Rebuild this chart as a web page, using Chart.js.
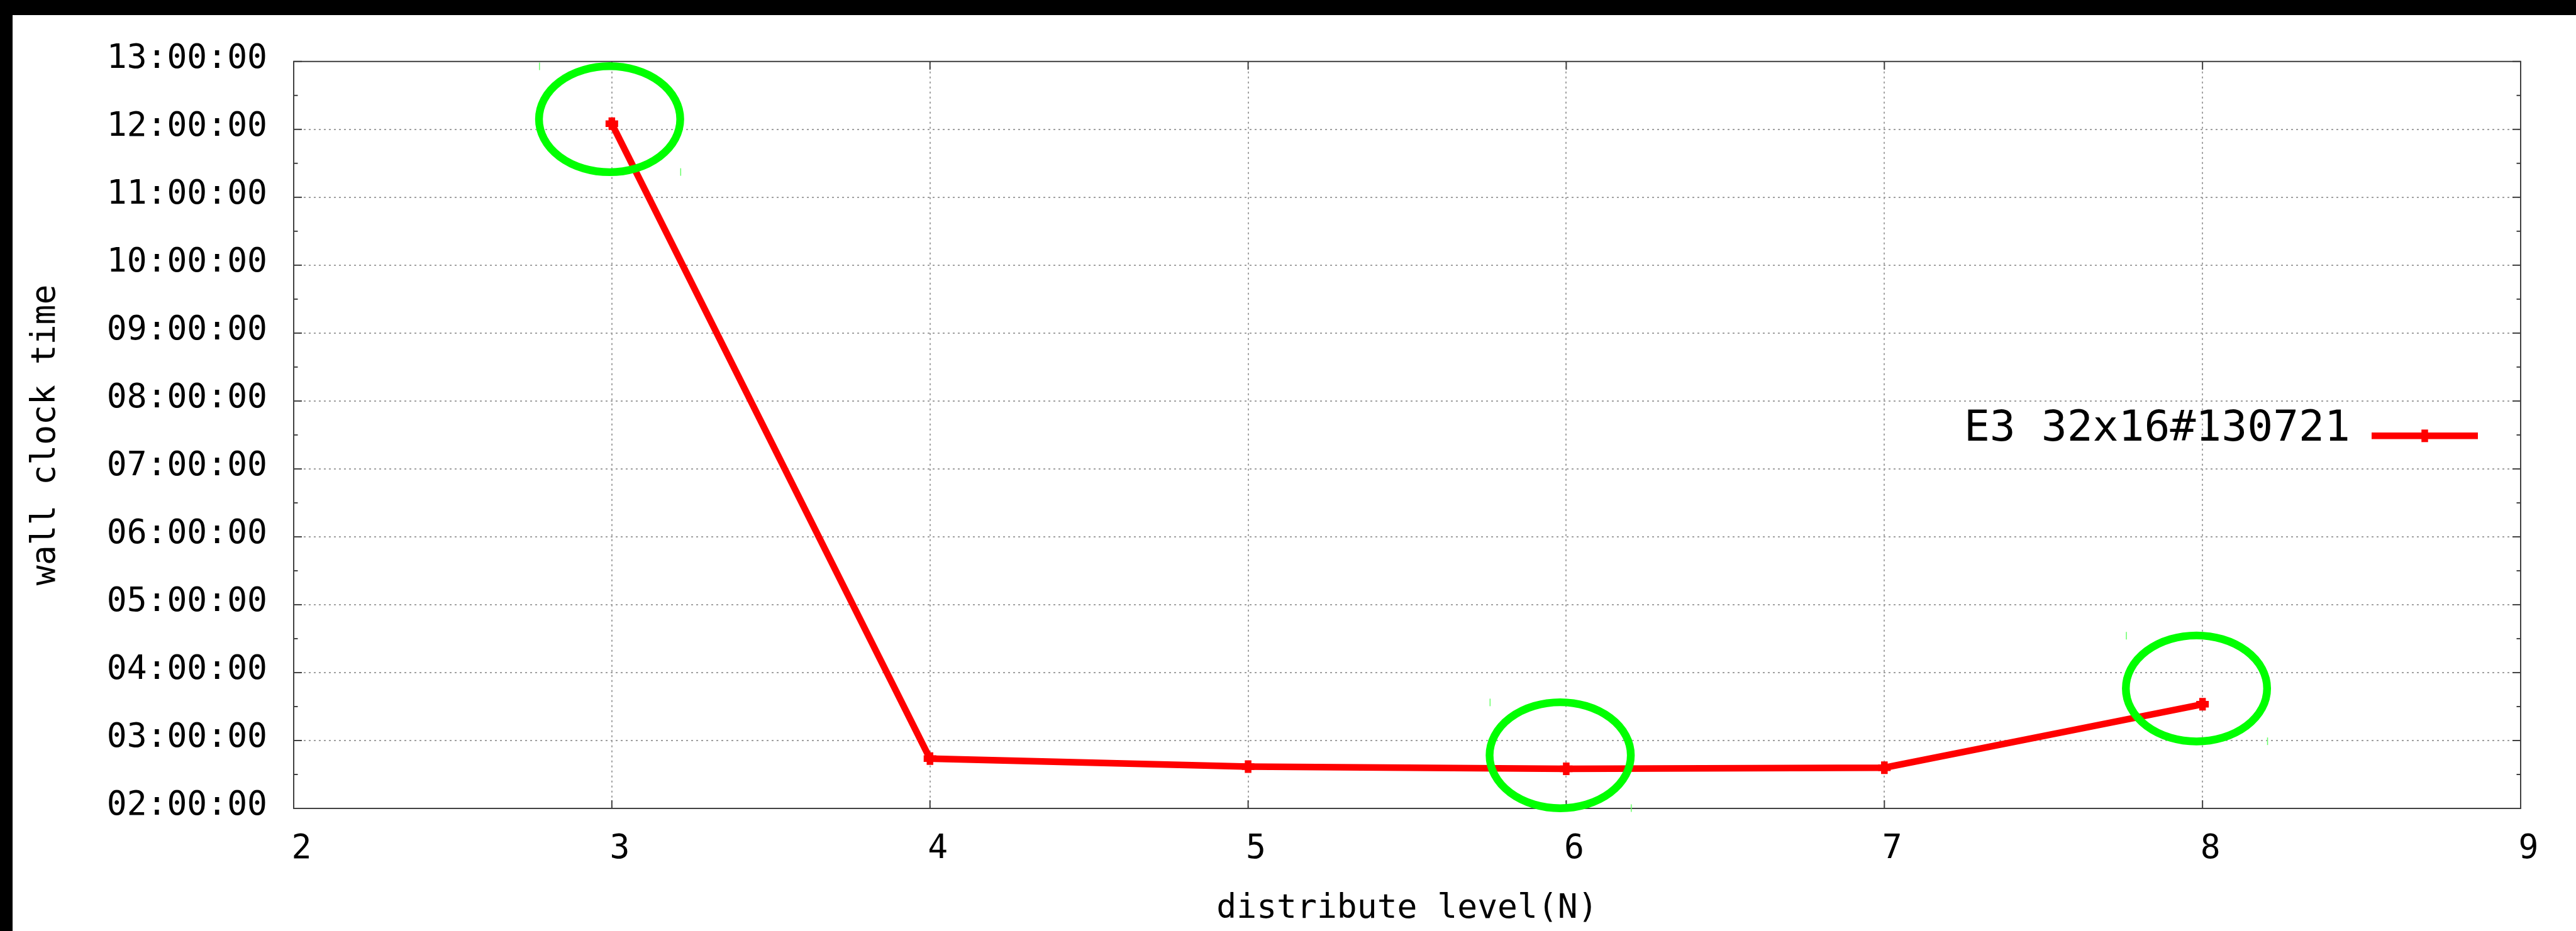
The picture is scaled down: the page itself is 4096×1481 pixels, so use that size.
<!DOCTYPE html>
<html>
<head>
<meta charset="utf-8">
<script src="https://cdn.jsdelivr.net/npm/chart.js@4.4.1/dist/chart.umd.min.js"></script>
<style>
html, body { margin: 0; padding: 0; background: #000; width: 4096px; height: 1481px; overflow: hidden; }
#wrap { position: absolute; left: 20px; top: 24px; width: 4076px; height: 1457px; background: #fff; }
canvas { display: block; }
</style>
</head>
<body>
<div id="wrap"><canvas id="c" width="4076" height="1457"></canvas></div>
<script>
// ---- data ----
const levels = [3, 4, 5, 6, 7, 8];
const wallClockTimes = ['12:05:00', '02:44:00', '02:37:00', '02:35:00', '02:36:00', '03:32:00'];
const seriesLabel = 'E3 32x16#130721';
const xTickValues = [2, 3, 4, 5, 6, 7, 8, 9];
const yTickLabels = ['02:00:00', '03:00:00', '04:00:00', '05:00:00', '06:00:00', '07:00:00',
                     '08:00:00', '09:00:00', '10:00:00', '11:00:00', '12:00:00', '13:00:00'];
const xTitle = 'distribute level(N)';
const yTitle = 'wall clock time';
// hand-drawn green highlight circles (centre in data units)
const highlightLevels = [2.993, 5.981, 7.981];
const highlightTimes = ['12:09:00', '02:47:00', '03:46:00'];

function toSec(s) { const p = s.split(':').map(Number); return p[0] * 3600 + p[1] * 60 + p[2]; }
function fmt(v) {
  const h = Math.floor(v / 3600), m = Math.floor((v % 3600) / 60), s = Math.round(v % 60);
  const z = n => String(n).padStart(2, '0');
  return z(h) + ':' + z(m) + ':' + z(s);
}

const FONT = '"DejaVu Sans Mono", monospace';
const RED = '#ff0000';
const GRID = '#a0a0a0';
const FRAME = '#404040';

const framePlugin = {
  id: 'framePlugin',
  beforeDatasetsDraw(chart) {
    const { ctx, chartArea: a, scales: { x, y } } = chart;
    const line = (x1, y1, x2, y2) => { ctx.beginPath(); ctx.moveTo(x1, y1); ctx.lineTo(x2, y2); ctx.stroke(); };
    ctx.save();
    ctx.strokeStyle = FRAME;
    ctx.lineWidth = 2;
    ctx.setLineDash([]);
    ctx.strokeRect(a.left, a.top, a.right - a.left, a.bottom - a.top);
    const yt = y.ticks;
    yt.forEach((t, i) => {
      const py = y.getPixelForValue(t.value);
      line(a.left, py, a.left + 13, py);
      line(a.right, py, a.right - 13, py);
      if (i < yt.length - 1) {
        const pm = y.getPixelForValue((t.value + yt[i + 1].value) / 2);
        line(a.left, pm, a.left + 6.5, pm);
        line(a.right, pm, a.right - 6.5, pm);
      }
    });
    x.ticks.forEach(t => {
      const px = x.getPixelForValue(t.value);
      line(px, a.bottom, px, a.bottom - 13);
      line(px, a.top, px, a.top + 13);
    });
    ctx.restore();
  },
  afterDraw(chart) {
    const { ctx, chartArea: a, scales: { x, y } } = chart;
    const line = (x1, y1, x2, y2) => { ctx.beginPath(); ctx.moveTo(x1, y1); ctx.lineTo(x2, y2); ctx.stroke(); };
    ctx.save();
    // legend (inside plot, right side)
    const ds = chart.data.datasets[0];
    ctx.font = '68px ' + FONT;
    ctx.fillStyle = '#000';
    ctx.textAlign = 'right';
    ctx.textBaseline = 'alphabetic';
    const ly = a.top + 595.5;
    ctx.fillText(ds.label, a.right - 271, ly + 7.5);
    ctx.strokeStyle = ds.borderColor;
    ctx.lineWidth = ds.borderWidth;
    ctx.lineCap = 'butt';
    const lx1 = a.right - 237, lx2 = a.right - 68, lxm = (lx1 + lx2) / 2;
    line(lx1, ly, lx2, ly);
    ctx.lineWidth = ds.pointBorderWidth;
    line(lxm, ly - ds.pointRadius, lxm, ly + ds.pointRadius);
    // green highlight ellipses
    highlightLevels.forEach((lv, i) => {
      const cx = x.getPixelForValue(lv), cy = y.getPixelForValue(toSec(highlightTimes[i]));
      ctx.beginPath();
      ctx.ellipse(cx, cy, 112.3, 84.3, 0, 0, Math.PI * 2);
      ctx.strokeStyle = '#00ff00';
      ctx.lineWidth = 12.4;
      ctx.stroke();
      ctx.strokeStyle = '#66ff66';
      ctx.lineWidth = 1.5;
      line(cx - 111.5, cy - 90, cx - 111.5, cy - 78);
      line(cx + 113, cy + 78, cx + 113, cy + 90);
    });
    ctx.restore();
  }
};

Chart.defaults.font.family = FONT;
Chart.defaults.color = '#000';

new Chart(document.getElementById('c'), {
  type: 'line',
  data: {
    datasets: [{
      label: seriesLabel,
      data: levels.map((lv, i) => ({ x: lv, y: toSec(wallClockTimes[i]) })),
      borderColor: RED,
      backgroundColor: RED,
      borderWidth: 10.5,
      pointStyle: 'cross',
      pointRadius: 10,
      pointBorderWidth: 10.5,
      pointBorderColor: RED,
      pointBackgroundColor: RED,
      tension: 0,
      fill: false
    }]
  },
  options: {
    responsive: false,
    animation: false,
    devicePixelRatio: 1,
    layout: { padding: { left: 0, top: 73.5, right: 88, bottom: 0 } },
    plugins: { legend: { display: false }, tooltip: { enabled: false } },
    scales: {
      x: {
        type: 'linear',
        min: xTickValues[0],
        max: xTickValues[xTickValues.length - 1],
        afterBuildTicks: s => { s.ticks = xTickValues.map(v => ({ value: v })); },
        afterFit: s => { s.height = 195; },
        grid: {
          color: c => (c.tick && (c.tick.value === xTickValues[0] || c.tick.value === xTickValues[xTickValues.length - 1])) ? 'rgba(0,0,0,0)' : GRID,
          lineWidth: 2,
          drawTicks: false
        },
        border: { display: false, dash: [3, 5] },
        ticks: {
          padding: 33,
          labelOffset: 12.5,
          maxRotation: 0,
          autoSkip: false,
          color: '#000',
          font: { size: 53, family: FONT },
          callback: v => String(v)
        },
        title: {
          display: true,
          text: xTitle,
          color: '#000',
          font: { size: 53, family: FONT },
          padding: { top: 0, bottom: 3 }
        }
      },
      y: {
        type: 'linear',
        min: toSec(yTickLabels[0]),
        max: toSec(yTickLabels[yTickLabels.length - 1]),
        afterBuildTicks: s => { s.ticks = yTickLabels.map(l => ({ value: toSec(l) })); },
        afterFit: s => { s.width = 447; },
        grid: {
          color: c => (c.tick && (c.tick.value === toSec(yTickLabels[0]) || c.tick.value === toSec(yTickLabels[yTickLabels.length - 1]))) ? 'rgba(0,0,0,0)' : GRID,
          lineWidth: 2,
          drawTicks: false
        },
        border: { display: false, dash: [3, 5] },
        ticks: {
          padding: 42,
          labelOffset: -3.5,
          autoSkip: false,
          color: '#000',
          font: { size: 53, family: FONT },
          callback: v => fmt(v)
        },
        title: {
          display: true,
          text: yTitle,
          color: '#000',
          font: { size: 53, family: FONT },
          padding: { top: 21, bottom: 0 }
        }
      }
    }
  },
  plugins: [framePlugin]
});
</script>
</body>
</html>
